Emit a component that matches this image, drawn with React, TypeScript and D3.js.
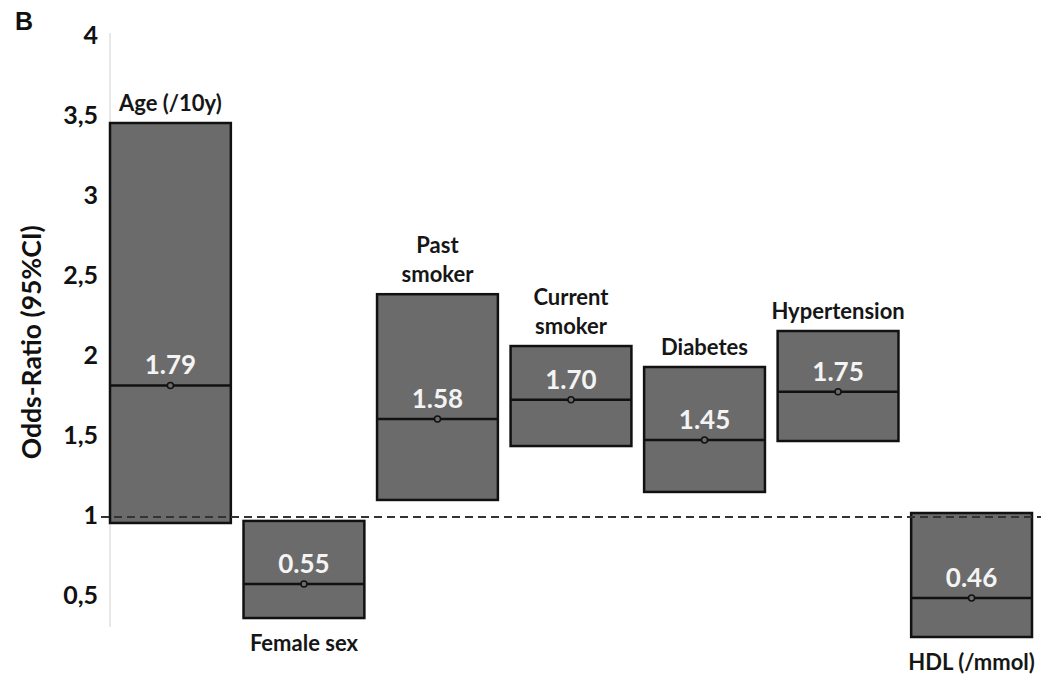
import { useEffect, useRef } from "react"
import * as d3 from "d3"

const categories = ["Age (/10y)", "Female sex", "Past\nsmoker", "Current\nsmoker", "Diabetes", "Hypertension", "HDL (/mmol)"]
const lower = [0.95, 0.356, 1.094, 1.431, 1.144, 1.4625, 0.2375]
const upper = [3.45, 0.963, 2.38, 2.056, 1.925, 2.15, 1.0125]
const median = [1.81, 0.569, 1.6, 1.72, 1.469, 1.77, 0.481]
const valueLabels = ["1.79", "0.55", "1.58", "1.70", "1.45", "1.75", "0.46"]
const yTicks = [0.5, 1, 1.5, 2, 2.5, 3, 3.5, 4]

const WIDTH = 1062
const HEIGHT = 687
const FONT = "Lato, 'Open Sans', sans-serif"

export default function App() {
  const svgRef = useRef<SVGSVGElement>(null)

  useEffect(() => {
    if (!svgRef.current) return
    const svg = d3.select(svgRef.current)
    svg.selectAll("*").remove()

    const y = d3.scaleLinear().domain([0.3, 4]).range([627, 35])
    const x = d3
      .scaleBand<string>()
      .domain(categories)
      .range([110, 1032])
      .paddingInner(0.095)
      .paddingOuter(0)

    // panel letter
    svg.append("text")
      .attr("x", 15)
      .attr("y", 30)
      .attr("font-family", "Arial, 'Liberation Sans', sans-serif")
      .attr("font-weight", 700)
      .attr("font-size", "25px")
      .attr("fill", "#111")
      .text("B")

    // axis line
    svg.append("line")
      .attr("x1", 110).attr("x2", 110)
      .attr("y1", y(4) - 2).attr("y2", y(0.3))
      .attr("stroke", "#d9d9d9")
      .attr("stroke-width", 1.2)

    // tick labels
    svg.append("g")
      .selectAll("text")
      .data(yTicks)
      .join("text")
      .attr("x", 98)
      .attr("y", (d) => y(d))
      .attr("dy", "0.36em")
      .attr("text-anchor", "end")
      .attr("font-family", FONT)
      .attr("font-weight", 700)
      .attr("font-size", "25px")
      .attr("fill", "#111")
      .text((d) => String(d).replace(".", ","))

    // y title
    svg.append("text")
      .attr("transform", `translate(41, ${y(2.08)}) rotate(-90)`)
      .attr("text-anchor", "middle")
      .attr("font-family", FONT)
      .attr("font-weight", 700)
      .attr("font-size", "26.5px")
      .attr("fill", "#111")
      .text("Odds-Ratio (95%CI)")

    const bars = svg.append("g")
    categories.forEach((c, i) => {
      const x0 = x(c)!
      const bw = x.bandwidth()
      const g = bars.append("g")
      g.append("rect")
        .attr("x", x0)
        .attr("y", y(upper[i]))
        .attr("width", bw)
        .attr("height", y(lower[i]) - y(upper[i]))
        .attr("fill", "#6b6b6b")
        .attr("stroke", "#111")
        .attr("stroke-width", 2.5)
      g.append("line")
        .attr("x1", x0).attr("x2", x0 + bw)
        .attr("y1", y(median[i])).attr("y2", y(median[i]))
        .attr("stroke", "#111")
        .attr("stroke-width", 2.5)
      g.append("circle")
        .attr("cx", x0 + bw / 2)
        .attr("cy", y(median[i]))
        .attr("r", 3)
        .attr("fill", "#6b6b6b")
        .attr("stroke", "#111")
        .attr("stroke-width", 1.5)
      g.append("text")
        .attr("x", x0 + bw / 2)
        .attr("y", y(median[i]) - 11)
        .attr("text-anchor", "middle")
        .attr("font-family", FONT)
        .attr("font-weight", 700)
        .attr("font-size", "26px")
        .attr("fill", "#f4f4f4")
        .text(valueLabels[i])

      // category label: above the box, or below when the box sits under 1
      const lines = c.split("\n")
      const below = upper[i] < 1.05
      const lineH = 29
      const startY = below
        ? y(lower[i]) + 33
        : y(upper[i]) - 12 - (lines.length - 1) * lineH
      lines.forEach((ln, k) => {
        g.append("text")
          .attr("x", x0 + bw / 2)
          .attr("y", startY + k * lineH)
          .attr("text-anchor", "middle")
          .attr("font-family", FONT)
          .attr("font-weight", 700)
          .attr("font-size", "22px")
          .attr("fill", "#161616")
          .text(ln)
      })
    })

    // reference line at OR = 1
    svg.append("line")
      .attr("x1", 101).attr("x2", 1041)
      .attr("y1", y(1) + 2).attr("y2", y(1) + 2)
      .attr("stroke", "#333")
      .attr("stroke-width", 2)
      .attr("stroke-dasharray", "8,5")
  }, [])

  return (
    <svg
      ref={svgRef}
      width={WIDTH}
      height={HEIGHT}
      style={{ position: "absolute", left: 0, top: 0, background: "#fff" }}
    />
  )
}
